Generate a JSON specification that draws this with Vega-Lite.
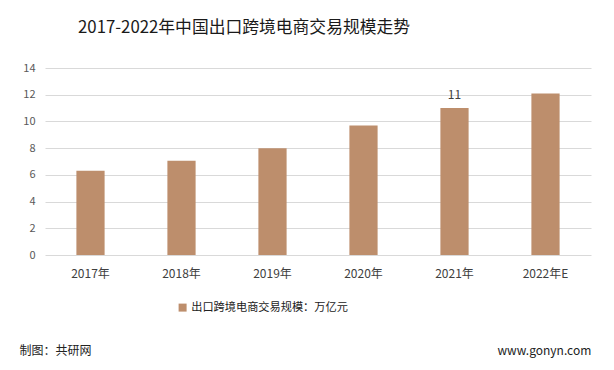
{
  "$schema": "https://vega.github.io/schema/vega-lite/v6.json",
  "width": 546,
  "height": 187,
  "autosize": "none",
  "padding": {"top": 68, "left": 45, "right": 23, "bottom": 115},
  "background": "#ffffff",
  "config": {
    "font": "Noto Sans CJK SC",
    "view": {"stroke": null}
  },
  "title": {
    "text": "2017-2022年中国出口跨境电商交易规模走势",
    "anchor": "start",
    "frame": "group",
    "dx": 33,
    "offset": 25,
    "fontSize": 16.8,
    "fontWeight": "normal",
    "color": "#1a1a1a",
    "font": "Noto Sans CJK SC"
  },
  "data": {
    "values": [
      {"year": "2017年", "value": 6.3, "series": "出口跨境电商交易规模：万亿元"},
      {"year": "2018年", "value": 7.05, "series": "出口跨境电商交易规模：万亿元"},
      {"year": "2019年", "value": 8.0, "series": "出口跨境电商交易规模：万亿元"},
      {"year": "2020年", "value": 9.7, "series": "出口跨境电商交易规模：万亿元"},
      {"year": "2021年", "value": 11, "series": "出口跨境电商交易规模：万亿元"},
      {"year": "2022年E", "value": 12.1, "series": "出口跨境电商交易规模：万亿元"}
    ]
  },
  "encoding": {
    "x": {
      "field": "year",
      "type": "nominal",
      "sort": null,
      "scale": {"paddingInner": 0.69, "paddingOuter": 0.345},
      "axis": {
        "title": "制图：共研网",
        "titleX": -26,
        "titleY": 95,
        "titleAnchor": "start",
        "titleAlign": "left",
        "titleBaseline": "middle",
        "titleFontSize": 12,
        "titleFontWeight": "normal",
        "titleColor": "#222222",
        "labelAngle": 0,
        "labelFontSize": 12,
        "labelColor": "#404040",
        "labelPadding": 13,
        "domain": false,
        "ticks": false
      }
    },
    "y": {
      "field": "value",
      "type": "quantitative",
      "scale": {"domain": [0, 14]},
      "axis": {
        "values": [0, 2, 4, 6, 8, 10, 12, 14],
        "title": "www.gonyn.com",
        "titleAngle": 0,
        "titleX": 452,
        "titleY": 282,
        "titleAlign": "left",
        "titleBaseline": "middle",
        "titleFontSize": 12,
        "titleFontWeight": "normal",
        "titleColor": "#222222",
        "labelFontSize": 11,
        "labelColor": "#595959",
        "labelPadding": 10,
        "domain": false,
        "ticks": false,
        "gridColor": "#d9d9d9",
        "gridWidth": 1
      }
    }
  },
  "layer": [
    {
      "mark": {"type": "bar", "color": "#BD8E6C"},
      "encoding": {
        "color": {
          "field": "series",
          "type": "nominal",
          "scale": {"range": ["#BD8E6C"]},
          "legend": {
            "title": null,
            "orient": "none",
            "legendX": 132,
            "legendY": 234,
            "symbolType": "square",
            "symbolSize": 64,
            "labelFontSize": 11.2,
            "labelLimit": 0,
            "labelColor": "#222222",
            "labelOffset": 3
          }
        }
      }
    },
    {
      "transform": [{"filter": "datum.year === '2021年'"}],
      "mark": {"type": "text", "dy": -13, "fontSize": 12, "color": "#404040"},
      "encoding": {
        "text": {"field": "value", "type": "quantitative"}
      }
    }
  ]
}
